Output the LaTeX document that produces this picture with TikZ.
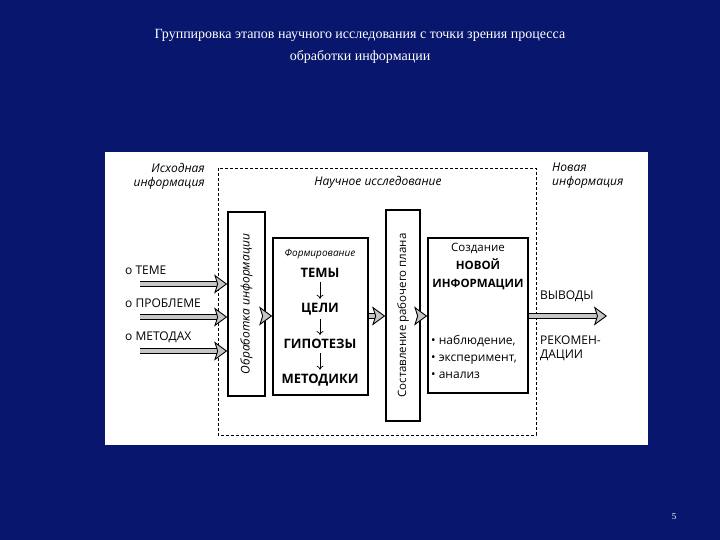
\documentclass[tikz,border=0pt]{standalone}
\usepackage{fontspec}
\setmainfont{Liberation Serif}
\newfontfamily\dg{Open Sans}
\usetikzlibrary{arrows.meta,calc}
\newcommand\fatarr[2]{%
  \draw[line width=6pt,black,shorten >=9pt] #1 -- #2;
  \draw[line width=4pt,gray!45,shorten >=9pt] #1 -- #2;
  \draw[line width=0.9pt,-{Stealth[length=13pt,width=19pt,inset=3pt,fill=gray!45]}] ($#2+(-2,0)$) -- #2;}
\begin{document}
\begin{tikzpicture}[x=1pt,y=-1pt,
  box/.style={draw=black,line width=1.6pt,fill=white},
  lbl/.style={font=\dg\fontsize{12}{14}\selectfont,inner sep=0pt},
  bl/.style={font=\dg\fontsize{13}{15}\selectfont\bfseries,inner sep=0pt},
  it/.style={font=\dg\fontsize{12}{14}\selectfont\itshape,inner sep=0pt,align=left}]
\definecolor{bg}{RGB}{8,22,110}
\fill[bg] (0,0) rectangle (720,540);
\useasboundingbox (0,0) rectangle (720,540);
\node[text=white,align=center,font=\fontsize{14}{22}\selectfont,inner sep=0pt] (title) at (360,46) {Группировка этапов научного исследования с точки зрения процесса\\обработки информации};
\node[text=white,font=\small,inner sep=0pt] (pg) at (674,517) {5};
\fill[white] (105,152) rectangle (648,445);
\draw[densely dashed,line width=0.8pt] (218,168) rectangle (536,435);
\node[it,align=right,anchor=north east] (src) at (205,163) {Исходная\\информация};
\node[it] (sci) at (378,182) {Научное исследование};
\node[it,anchor=north west] (new) at (552,163) {Новая\\информация};
\node[box,minimum width=37pt,minimum height=184pt,inner sep=0pt] (proc) at (246.5,304) {};
\node[it,rotate=90] at (proc) {Обработка информации};
\node[box,minimum width=34pt,minimum height=211pt,inner sep=0pt] (plan) at (403,315.5) {};
\node[lbl,rotate=90,font=\dg\fontsize{11.5}{13}\selectfont] at (plan) {Составление рабочего плана};
\node[box,minimum width=95pt,minimum height=157pt,inner sep=0pt] (form) at (320.5,316.5) {};
\node[box,minimum width=100pt,minimum height=155pt,inner sep=0pt] (cre) at (478,315.5) {};
\node[font=\dg\fontsize{10}{12}\selectfont\itshape,inner sep=0pt] (f0) at (320,254) {Формирование};
\node[bl] (f1) at (320,273) {ТЕМЫ};
\node[bl] (f2) at (320,309) {ЦЕЛИ};
\node[bl] (f3) at (320,344) {ГИПОТЕЗЫ};
\node[bl] (f4) at (320,380) {МЕТОДИКИ};
\foreach \a/\b in {f1/f2,f2/f3,f3/f4} \draw[-{To[length=4pt,width=7pt]},line width=0.7pt] ([yshift=-4pt]\a.south) -- ([yshift=4pt]\b.north);
\node[lbl,align=center,anchor=north,font=\dg\fontsize{11.5}{18}\selectfont] (c1) at (478,243) {Создание\\{\bfseries НОВОЙ}\\{\bfseries ИНФОРМАЦИИ}};
\node[lbl,align=left,anchor=west,font=\dg\fontsize{12}{17}\selectfont] (c2) at (431,357) {• наблюдение,\\• эксперимент,\\• анализ};
\node[lbl,anchor=west] (t1) at (125,270) {о ТЕМЕ};
\node[lbl,anchor=west] (t2) at (125,303) {о ПРОБЛЕМЕ};
\node[lbl,anchor=west] (t3) at (125,337) {о МЕТОДАХ};
\coordinate (s1) at (140,284); \coordinate (s2) at (140,317); \coordinate (s3) at (140,351);
\fatarr{(s1)}{(proc.west |- s1)}
\fatarr{(s2)}{(proc.west |- s2)}
\fatarr{(s3)}{(proc.west |- s3)}
\fatarr{(proc.east |- 0,316)}{(form.west |- 0,316)}
\fatarr{(form.east |- 0,316)}{(plan.west |- 0,316)}
\fatarr{(plan.east |- 0,316)}{(cre.west |- 0,316)}
\coordinate (out) at (607,316);
\fatarr{(cre.east |- out)}{(out)}
\node[lbl,anchor=west] (o1) at (540,296) {ВЫВОДЫ};
\node[lbl,anchor=west,align=left] (o2) at (540,348) {РЕКОМЕН-\\ДАЦИИ};
\end{tikzpicture}
\end{document}
